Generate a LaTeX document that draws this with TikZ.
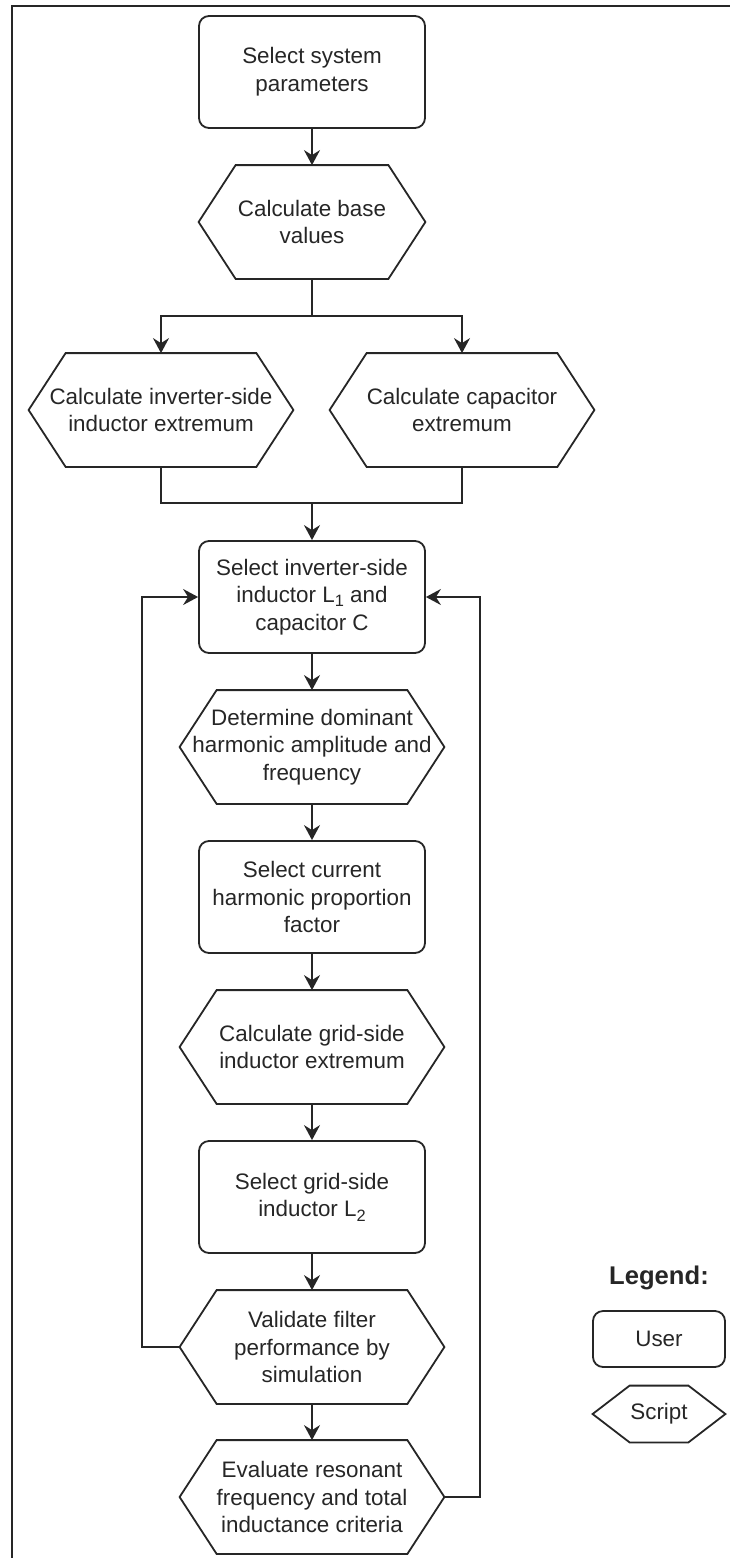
\documentclass[tikz,border=0pt]{standalone}
\usepackage{fontspec}
\setmainfont{Liberation Sans}
\usetikzlibrary{arrows.meta}

\newcommand\boxfont{\fontsize{11.2}{13.8}\selectfont}
\newcommand\lowidx[1]{\raisebox{-0.35ex}{\fontsize{8.2}{8.2}\selectfont #1}}

\tikzset{
  ink/.style={draw=black!85, line width=0.9pt},
  userbox/.style={ink, rounded corners=5pt, minimum width=113pt, minimum height=56pt,
                  align=center, inner sep=0pt, text=black!85, font=\boxfont},
  scriptbox/.style={minimum width=132pt, minimum height=56.5pt,
                  align=center, inner sep=0pt, text=black!85, font=\boxfont},
  flow/.style={ink, -{Stealth[length=7.5pt, width=8pt, inset=2.5pt]}},
}

\begin{document}
\begin{tikzpicture}[x=0.5pt, y=-0.5pt]
\useasboundingbox (0,0) rectangle (730,1558);

%% ---- Cornice ----
\draw[draw=black!85, line width=0.8pt] (12,1558) -- (12,6) -- (730,6);

%% ---- Nodi principali ----
\node[userbox]   (sysp)  at (312,  72) {Select system\\parameters};
\node[scriptbox, minimum width=113pt] (base) at (312, 222) {Calculate base\\values};
\node[scriptbox] (invL)  at (161, 410) {Calculate inverter-side\\inductor extremum};
\node[scriptbox] (capC)  at (462, 410) {Calculate capacitor\\extremum};
\node[userbox]   (selLC) at (312, 597) {Select inverter-side\\inductor L\lowidx{1} and\\capacitor C};
\node[scriptbox] (harm)  at (312, 747) {Determine dominant\\harmonic amplitude and\\frequency};
\node[userbox]   (prop)  at (312, 897) {Select current\\harmonic proportion\\factor};
\node[scriptbox] (gridL) at (312,1047) {Calculate grid-side\\inductor extremum};
\node[userbox]   (selL2) at (312,1197) {Select grid-side\\inductor L\lowidx{2}};
\node[scriptbox] (valid) at (312,1347) {Validate filter\\performance by\\simulation};
\node[scriptbox] (eval)  at (312,1497) {Evaluate resonant\\frequency and total\\inductance criteria};

%% ---- Legenda ----
\node[font=\fontsize{12.8}{15}\selectfont\bfseries, text=black!85] (key) at (659,1278) {Legend:};
\node[userbox, minimum width=66pt, minimum height=28pt]   (keyU) at (659,1339) {User};
\node[scriptbox, minimum width=66pt, minimum height=28pt] (keyS) at (659,1414) {Script};

%% ---- Contorni esagonali ----
\foreach \n in {base,invL,capC,harm,gridL,valid,eval,keyS}
  \draw[ink, line join=miter] (\n.west) -- ([xshift=18.5pt]\n.north west)
    -- ([xshift=-18.5pt]\n.north east) -- (\n.east)
    -- ([xshift=-18.5pt]\n.south east) -- ([xshift=18.5pt]\n.south west) -- cycle;

%% ---- Diramazione e unione ----
\coordinate (split) at (312,316);
\coordinate (join)  at (312,503);
\draw[flow] (sysp) -- (base);
\draw[ink]  (base.south) -- (split);
\draw[flow] (split) -| (invL.north);
\draw[flow] (split) -| (capC.north);
\draw[ink]  (invL.south) |- (join);
\draw[ink]  (capC.south) |- (join);
\draw[flow] (join) -- (selLC);

%% ---- Catena ----
\draw[flow] (selLC) -- (harm);
\draw[flow] (harm)  -- (prop);
\draw[flow] (prop)  -- (gridL);
\draw[flow] (gridL) -- (selL2);
\draw[flow] (selL2) -- (valid);
\draw[flow] (valid) -- (eval);

%% ---- Retroazioni ----
\coordinate (fbL) at (142,1347);
\coordinate (fbR) at (480,1497);
\draw[flow] (valid.west) -- (fbL) |- (selLC.west);
\draw[flow] (eval.east)  -- (fbR) |- (selLC.east);

\end{tikzpicture}
\end{document}
